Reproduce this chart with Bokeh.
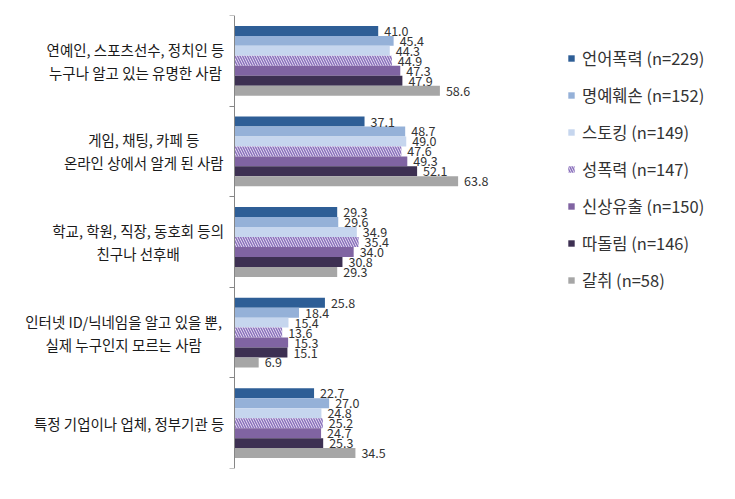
from bokeh.plotting import figure
from bokeh.models import ColumnDataSource, LabelSet, Label, Legend, LegendItem, FixedTicker, Range1d
from bokeh.core.properties import value
from bokeh.embed import file_html
from bokeh.resources import INLINE

categories = [
    "연예인, 스포츠선수, 정치인 등\n누구나 알고 있는 유명한 사람",
    "게임, 채팅, 카페 등\n온라인 상에서 알게 된 사람",
    "학교, 학원, 직장, 동호회 등의\n친구나 선후배",
    "인터넷 ID/닉네임을 알고 있을 뿐,\n실제 누구인지 모르는 사람",
    "특정 기업이나 업체, 정부기관 등",
]
series = ["언어폭력 (n=229)", "명예훼손 (n=152)", "스토킹 (n=149)", "성폭력 (n=147)",
          "신상유출 (n=150)", "따돌림 (n=146)", "갈취 (n=58)"]
verbal = [41.0, 37.1, 29.3, 25.8, 22.7]
defame = [45.4, 48.7, 29.6, 18.4, 27.0]
stalking = [44.3, 49.0, 34.9, 15.4, 24.8]
sexual = [44.9, 47.6, 35.4, 13.6, 25.2]
personal = [47.3, 49.3, 34.0, 15.3, 24.7]
ostracism = [47.9, 52.1, 30.8, 15.1, 25.3]
extortion = [58.6, 63.8, 29.3, 6.9, 34.5]
values = [verbal, defame, stalking, sexual, personal, ostracism, extortion]

colors = ["#2E5E96", "#95B1D8", "#C6D6EE", "#EDE6F5", "#8064A2", "#3D3052", "#A6A6A6"]
hatches = [None, None, None, "left_diagonal_line", None, None, None]

FONT = "Noto Sans CJK KR"
CAT_FS = 14.5
LINE_SP = 23
n_cat = len(categories)
n_ser = len(series)
bar_h = 0.11

# frame spans nearly the whole width; value 0 sits at the axis
PX_PER_UNIT = 3.505
FRAME_LEFT = 10
AXIS_X = 234
x_start = -(AXIS_X - FRAME_LEFT) / PX_PER_UNIT
x_end = (735 - AXIS_X) / PX_PER_UNIT

p = figure(width=735, height=499, output_backend="svg", toolbar_location=None,
           x_range=Range1d(x_start, x_end), y_range=Range1d(n_cat, 0),
           x_axis_location=None, min_border_left=FRAME_LEFT, min_border_right=0,
           min_border_top=15, min_border_bottom=31)
p.outline_line_color = None
p.grid.visible = False
p.background_fill_color = "white"
p.border_fill_color = "white"

centers = [i + 0.5 for i in range(n_cat)]
yax = p.yaxis[0]
yax.fixed_location = 0
yax.ticker = FixedTicker(ticks=[], minor_ticks=list(range(n_cat + 1)))
yax.major_label_text_font_size = "0px"
yax.major_tick_out = 0
yax.major_tick_in = 0
yax.minor_tick_out = 5
yax.minor_tick_in = 0
yax.minor_tick_line_color = "#868686"
yax.axis_line_color = "#868686"


def est_width(line, fs):
    w = 0.0
    for ch in line:
        if "\uac00" <= ch <= "\ud7a3":
            w += 0.88
        elif ch in " ,.":
            w += 0.26
        elif ch == "/":
            w += 0.4
        elif ch.isupper():
            w += 0.62
        else:
            w += 0.55
    return w * fs


label_gap = 13
for c, yc in zip(categories, centers):
    lines = c.split("\n")
    block_w = max(est_width(l, CAT_FS) for l in lines)
    off = -(label_gap + block_w / 2)
    n = len(lines)
    for k, line in enumerate(lines):
        p.add_layout(Label(x=0, y=yc, text=line, x_offset=off,
                           y_offset=((n - 1) / 2 - k) * LINE_SP,
                           text_align="center", text_baseline="middle",
                           text_font=FONT, text_font_size=f"{CAT_FS}px",
                           text_color="#1A1A1A"))

items = []
for j, (name, vals) in enumerate(zip(series, values)):
    ys = [c + (j - (n_ser - 1) / 2) * bar_h for c in centers]
    src = ColumnDataSource(dict(y=ys, v=vals, t=[f"{v:.1f}" for v in vals]))
    kw = {}
    if hatches[j]:
        kw = dict(hatch_pattern=hatches[j], hatch_color="#8A72BC", hatch_scale=5, hatch_weight=1.5)
    r = p.hbar(y="y", left=0, right="v", height=bar_h, source=src,
               fill_color=colors[j], line_color=None, **kw)
    items.append(LegendItem(label=name, renderers=[r]))
    p.add_layout(LabelSet(x="v", y="y", text="t", source=src, x_offset=6,
                          text_baseline="middle", text_font=value(FONT),
                          text_font_size="12.5px", text_color="#333333"))

legend = Legend(items=items, location=(AXIS_X - FRAME_LEFT + 333, 176),
                glyph_width=8, glyph_height=8,
                label_height=20, spacing=13, label_standoff=7, padding=0, margin=0,
                border_line_color=None, background_fill_alpha=0,
                label_text_font=FONT, label_text_font_size="16.5px",
                label_text_color="#333333")
p.add_layout(legend)

open("out.html", "w").write(file_html(p, INLINE))
